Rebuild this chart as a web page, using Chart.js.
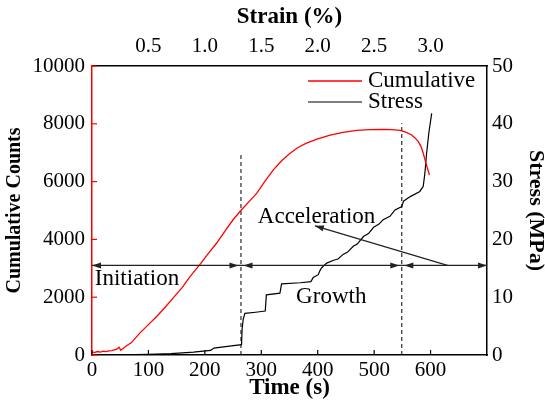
<!DOCTYPE html>
<html>
<head>
<meta charset="utf-8">
<script src="https://cdn.jsdelivr.net/npm/chart.js@4.4.0/dist/chart.umd.min.js"></script>
<style>
  html, body { margin: 0; padding: 0; background: #fff; }
  canvas { display: block; }
</style>
</head>
<body>
<canvas id="chart" width="545" height="400"></canvas>
<script>
// cumulative AE counts vs time
const cumTime = [0, 5, 10, 15, 20, 25, 30, 35, 38, 44, 48, 51, 60, 70, 85, 100, 115, 130, 144, 160, 174, 191, 205, 221, 235, 250, 265, 280, 292, 306, 321, 336, 351, 365, 380, 400, 422, 445, 469, 492, 516, 532, 546, 556, 566, 572, 578, 583, 587, 592, 598];
const cumCounts = [100, 90, 120, 100, 130, 115, 140, 150, 166, 200, 270, 166, 300, 430, 767, 1050, 1340, 1660, 1975, 2340, 2720, 3126, 3480, 3875, 4270, 4680, 5025, 5340, 5600, 6000, 6400, 6720, 6980, 7180, 7330, 7480, 7610, 7700, 7770, 7800, 7810, 7800, 7770, 7710, 7620, 7520, 7390, 7220, 6980, 6620, 6230];

// stress vs time
const stressTime = [0, 50, 100, 140, 180, 197, 210, 213, 216, 240, 265, 266, 268, 271, 290, 307, 309, 333, 336, 369, 388, 392, 401, 404, 407, 416, 428, 436, 445, 453, 463, 470, 481, 490, 499, 508, 516, 528, 537, 549, 552, 564, 581, 587, 590, 593, 597, 602];
const stressMPa = [0, 0.02, 0.1, 0.25, 0.5, 0.66, 0.8, 1.0, 1.2, 1.5, 1.8, 4.5, 6.2, 7.2, 7.4, 7.6, 10.4, 10.7, 12.3, 12.5, 12.7, 13.4, 13.9, 14.6, 15.1, 15.9, 16.4, 16.6, 17.4, 17.8, 18.8, 19.2, 20.5, 21.0, 22.1, 22.6, 23.4, 24.0, 25.1, 25.7, 26.6, 27.4, 28.3, 29.2, 31.5, 34.9, 38.5, 41.8];

// stage boundaries (time) and the height of their dashed markers (counts)
const stageBounds = [264, 549];
const stageTops = [6920, 8020];

const timeTicks = [0, 100, 200, 300, 400, 500, 600];
const strainTicks = [0.5, 1.0, 1.5, 2.0, 2.5, 3.0];
const countTicks = [0, 2000, 4000, 6000, 8000, 10000];
const stressTicks = [0, 10, 20, 30, 40, 50];

const SERIF = '"Liberation Serif", "Times New Roman", serif';

const pts = (xs, ys) => xs.map((x, i) => ({ x: x, y: ys[i] }));

const datasets = [
  { label: 'Cumulative', data: pts(cumTime, cumCounts), borderColor: '#ff0000', borderWidth: 1.3, yAxisID: 'y', xAxisID: 'x' },
  { label: 'Stress', data: pts(stressTime, stressMPa), borderColor: '#000000', borderWidth: 1.2, yAxisID: 'y2', xAxisID: 'x' }
];
stageBounds.forEach((t, i) => {
  datasets.push({
    label: 'bound' + i,
    data: [{ x: t, y: 0 }, { x: t, y: stageTops[i] }],
    borderColor: '#000', borderWidth: 1, borderDash: [4, 3],
    yAxisID: 'y', xAxisID: 'x'
  });
});

function arrowHead(ctx, x, y, angle) {
  const len = 9, half = 3;
  ctx.save();
  ctx.translate(x, y);
  ctx.rotate(angle);
  ctx.beginPath();
  ctx.moveTo(0, 0);
  ctx.lineTo(-len, -half);
  ctx.lineTo(-len, half);
  ctx.closePath();
  ctx.fill();
  ctx.restore();
}

const decor = {
  id: 'decor',
  afterDatasetsDraw(chart) {
    const { ctx, chartArea: a, scales } = chart;
    const xs = scales.x, ys = scales.y;
    ctx.save();

    // inward tick marks
    ctx.lineWidth = 1.2;
    ctx.strokeStyle = '#000';
    timeTicks.forEach(v => {
      const px = xs.getPixelForValue(v);
      ctx.beginPath(); ctx.moveTo(px, a.bottom); ctx.lineTo(px, a.bottom - 5); ctx.stroke();
    });
    ctx.strokeStyle = '#ff0000';
    countTicks.forEach(v => {
      const py = ys.getPixelForValue(v);
      ctx.beginPath(); ctx.moveTo(a.left, py); ctx.lineTo(a.left + 5, py); ctx.stroke();
    });

    // stage arrows
    ctx.strokeStyle = '#222';
    ctx.fillStyle = '#222';
    ctx.lineWidth = 1.3;
    const yA = ys.getPixelForValue(3100);
    ctx.beginPath(); ctx.moveTo(a.left, yA); ctx.lineTo(a.right, yA); ctx.stroke();
    const edges = [0, stageBounds[0], stageBounds[1], 700];
    for (let i = 0; i < 3; i++) {
      const x0 = xs.getPixelForValue(edges[i]) + (i > 0 ? 2.5 : 0);
      const x1 = xs.getPixelForValue(edges[i + 1]) - (i < 2 ? 2.5 : 0);
      arrowHead(ctx, x0, yA, Math.PI);
      arrowHead(ctx, x1, yA, 0);
    }

    // acceleration pointer
    const tx = xs.getPixelForValue(630), ty = yA;
    const hx = xs.getPixelForValue(395), hy = ys.getPixelForValue(4470);
    ctx.lineWidth = 1.2;
    ctx.beginPath(); ctx.moveTo(tx, ty); ctx.lineTo(hx, hy); ctx.stroke();
    arrowHead(ctx, hx, hy, Math.atan2(hy - ty, hx - tx));

    // stage labels
    ctx.fillStyle = '#000';
    ctx.font = '23px ' + SERIF;
    ctx.textBaseline = 'middle';
    ctx.textAlign = 'left';
    ctx.fillText('Initiation', xs.getPixelForValue(5), ys.getPixelForValue(2620));
    ctx.textAlign = 'center';
    ctx.fillText('Growth', xs.getPixelForValue(424), ys.getPixelForValue(2000));
    ctx.fillText('Acceleration', xs.getPixelForValue(398), ys.getPixelForValue(4780));

    // legend
    ctx.textAlign = 'left';
    [0, 1].forEach(i => {
      const ds = chart.data.datasets[i];
      const ly = a.top + 15 + i * 21;
      ctx.strokeStyle = ds.borderColor;
      ctx.lineWidth = ds.borderWidth;
      ctx.beginPath(); ctx.moveTo(a.right - 179, ly); ctx.lineTo(a.right - 125, ly); ctx.stroke();
      ctx.fillStyle = '#000';
      ctx.fillText(ds.label, a.right - 119, ly);
    });
    ctx.restore();
  }
};

const tickFont = { family: SERIF, size: 21 };
const titleFont = { family: SERIF, size: 23, weight: 'bold', lineHeight: 1 };
const noGrid = { display: false, drawTicks: false };

new Chart(document.getElementById('chart'), {
  type: 'line',
  data: { datasets: datasets },
  options: {
    responsive: false,
    animation: false,
    devicePixelRatio: 1,
    parsing: false,
    elements: { point: { radius: 0 }, line: { tension: 0 } },
    plugins: { legend: { display: false }, tooltip: { enabled: false } },
    layout: { padding: 0 },
    scales: {
      x: {
        type: 'linear', position: 'bottom', min: 0, max: 700,
        afterBuildTicks: s => { s.ticks = timeTicks.map(v => ({ value: v })); },
        afterFit: s => { s.height = 45; },
        grid: noGrid,
        border: { display: true, color: '#000', width: 1.5 },
        ticks: { font: tickFont, color: '#000', padding: 3, maxRotation: 0, callback: v => String(v) },
        title: { display: true, text: 'Time (s)', font: titleFont, color: '#000', padding: 0 }
      },
      x2: {
        type: 'linear', position: 'top', min: 0, max: 3.5,
        afterBuildTicks: s => { s.ticks = strainTicks.map(v => ({ value: v })); },
        afterFit: s => { s.height = 66; },
        grid: noGrid,
        border: { display: true, color: '#000', width: 1.5 },
        ticks: { font: tickFont, color: '#000', padding: 7, maxRotation: 0, callback: v => v.toFixed(1) },
        title: { display: true, text: 'Strain (%)', font: titleFont, color: '#000', padding: { top: 6, bottom: 0 } }
      },
      y: {
        type: 'linear', position: 'left', min: 0, max: 10000,
        afterBuildTicks: s => { s.ticks = countTicks.map(v => ({ value: v })); },
        afterFit: s => { s.width = 92; },
        grid: noGrid,
        border: { display: true, color: '#ff0000', width: 1.5 },
        ticks: { font: tickFont, color: '#000', padding: 7, callback: v => String(v) },
        title: { display: true, text: 'Cumulative Counts', font: { family: SERIF, size: 20, weight: 'bold', lineHeight: 1 }, color: '#000', padding: { top: 5, bottom: 0 } }
      },
      y2: {
        type: 'linear', position: 'right', min: 0, max: 50,
        afterBuildTicks: s => { s.ticks = stressTicks.map(v => ({ value: v })); },
        afterFit: s => { s.width = 58; },
        grid: noGrid,
        border: { display: true, color: '#000', width: 1.5 },
        ticks: { font: tickFont, color: '#000', padding: 5, callback: v => String(v) },
        title: { display: true, text: 'Stress (MPa)', font: { family: SERIF, size: 22, weight: 'bold', lineHeight: 1 }, color: '#000', padding: { top: -2, bottom: 0 } }
      }
    }
  },
  plugins: [decor]
});
</script>
</body>
</html>
